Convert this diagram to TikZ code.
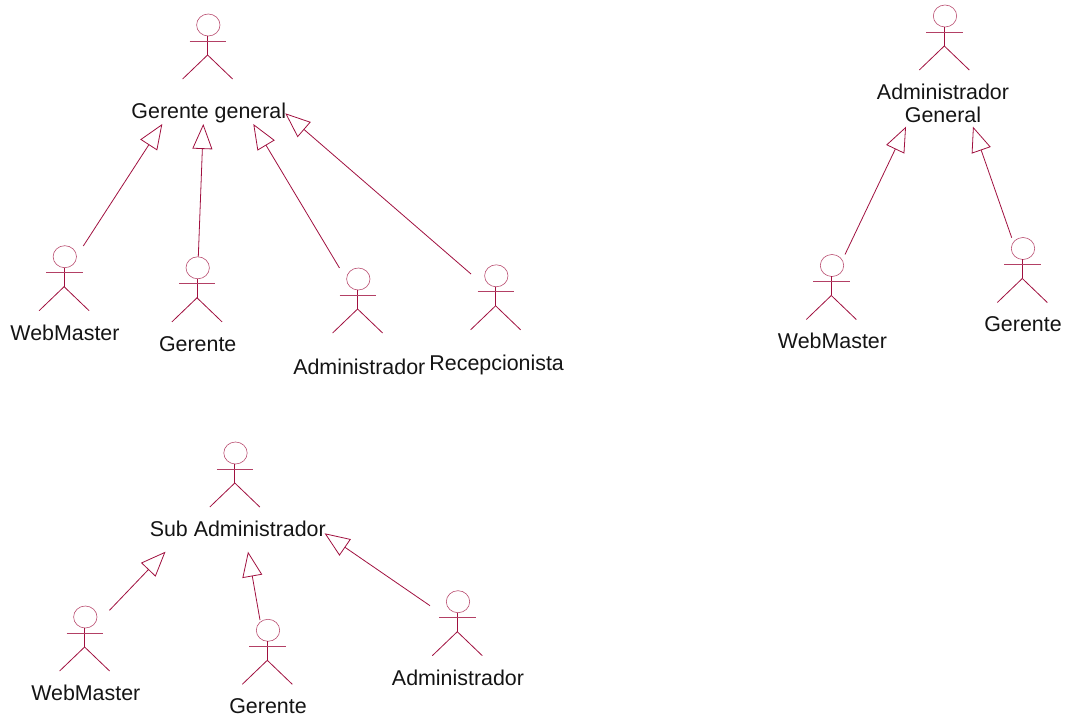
\documentclass[tikz,border=0pt]{standalone}
\usepackage{fontspec}
\setmainfont{Liberation Sans}
\usetikzlibrary{arrows.meta,shapes.geometric}
\definecolor{umlred}{HTML}{A0103F}
\tikzset{
  actorline/.style={draw=umlred,line width=0.8pt},
  actorhead/.style={draw=umlred!75,line width=0.6pt,ellipse,minimum width=23.4pt,minimum height=22pt,inner sep=0pt},
  actorlabel/.style={font=\fontsize{21.4pt}{23pt}\selectfont,text=black!92,inner sep=0pt,align=center,anchor=base},
  inherit/.style={actorline,-{Triangle[open,length=25pt,width=20pt]}},
  pics/actorfig/.style={code={
    \node[actorhead] (-head) at (0,0) {};
    \coordinate (-neck) at (-0.7,11);
    \coordinate (-waist) at (-0.7,30);
    \draw[actorline] (-neck) -- (-waist);
    \draw[actorline,draw=umlred!80,line width=0.9pt] (-18.7,16) -- (17.7,16);
    \draw[actorline] (-25.7,54) -- (-waist) -- (24.3,54);
  }}
}
\begin{document}
\begin{tikzpicture}[x=1pt,y=-1pt]
\useasboundingbox (0,0) rectangle (1072,719);
% first group
\pic (gg) at (208.3,25) {actorfig};
\node[actorlabel] (gglabel) at (208.8,119) {Gerente general};
\pic (wm) at (64.8,256.7) {actorfig};
\node[actorlabel] (wmlabel) at (65,341) {WebMaster};
\pic (ge) at (197.7,267.8) {actorfig};
\node[actorlabel] (gelabel) at (197.7,351.5) {Gerente};
\pic (ad) at (358.3,279) {actorfig};
\node[actorlabel] (adlabel) at (359.3,374.3) {Administrador};
\pic (re) at (496.3,275.8) {actorfig};
\node[actorlabel] (relabel) at (496.7,371) {Recepcionista};
% second group
\pic (ag) at (945,16) {actorfig};
\node[actorlabel] (aglabel) at (943,123) {Administrador\\General};
\pic (wmb) at (832,265.5) {actorfig};
\node[actorlabel] (wmblabel) at (832.5,349) {WebMaster};
\pic (geb) at (1023,248.5) {actorfig};
\node[actorlabel] (geblabel) at (1023,332) {Gerente};
% third group
\pic (sa) at (235.5,453) {actorfig};
\node[actorlabel] (salabel) at (237.8,536) {Sub Administrador};
\pic (wmc) at (85.3,617) {actorfig};
\node[actorlabel] (wmclabel) at (85.8,700) {WebMaster};
\pic (gec) at (268,630.3) {actorfig};
\node[actorlabel] (geclabel) at (268,713.5) {Gerente};
\pic (adc) at (458,601.7) {actorfig};
\node[actorlabel] (adclabel) at (458,685) {Administrador};
% connector ends
\coordinate (c1a) at (83.3,246);  \coordinate (c1b) at (162.3,124);
\coordinate (c2a) at (198.3,256.7); \coordinate (c2b) at (203.3,124);
\coordinate (c3a) at (339.5,268); \coordinate (c3b) at (253.3,124);
\coordinate (c4a) at (471,274); \coordinate (c4b) at (285.3,113.3);
\coordinate (c5a) at (845,254.5); \coordinate (c5b) at (906,126.7);
\coordinate (c6a) at (1011.7,237.7);\coordinate (c6b) at (973,126.7);
\coordinate (c7a) at (109.5,610.3); \coordinate (c7b) at (165.5,551.7);
\coordinate (c8a) at (260,620); \coordinate (c8b) at (248,551.7);
\coordinate (c9a) at (430,605.7); \coordinate (c9b) at (324.6,533.3);
\foreach \n in {1,...,9} \draw[inherit] (c\n a) -- (c\n b);
\end{tikzpicture}
\end{document}
